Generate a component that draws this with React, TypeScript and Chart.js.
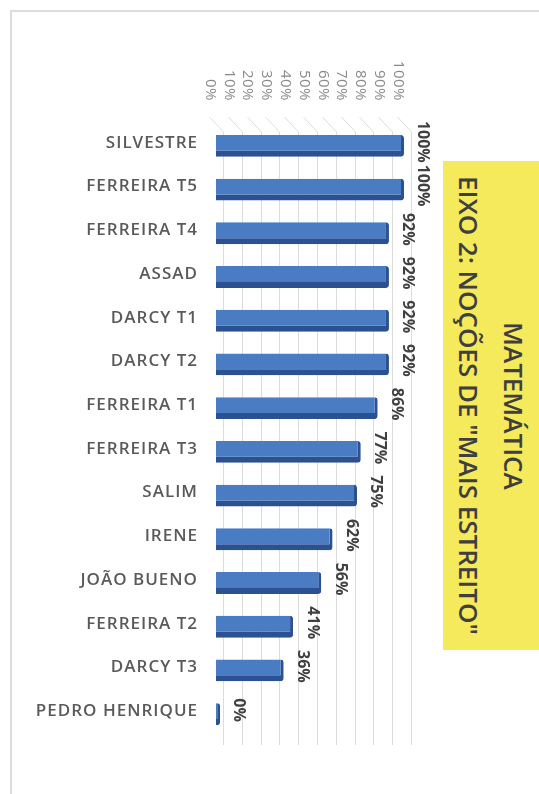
import React, { useEffect, useRef } from "react";
import { Chart, registerables } from "chart.js";

Chart.register(...registerables);

const categories = [
  "SILVESTRE",
  "FERREIRA T5",
  "FERREIRA T4",
  "ASSAD",
  "DARCY T1",
  "DARCY T2",
  "FERREIRA T1",
  "FERREIRA T3",
  "SALIM",
  "IRENE",
  "JOÃO BUENO",
  "FERREIRA T2",
  "DARCY T3",
  "PEDRO HENRIQUE",
];
const values = [100, 100, 92, 92, 92, 92, 86, 77, 75, 62, 56, 41, 36, 0];
const tickValues = [0, 10, 20, 30, 40, 50, 60, 70, 80, 90, 100];
const tickLabels = ["0%", "10%", "20%", "30%", "40%", "50%", "60%", "70%", "80%", "90%", "100%"];
const titleLines = ["MATEMÁTICA", 'EIXO 2: NOÇÕES DE "MAIS ESTREITO"'];

const overlayPlugin = {
  id: "overlay",
  beforeDatasetsDraw(chart: any) {
    const ctx = chart.ctx;
    const xs = chart.scales.x;
    ctx.save();
    ctx.strokeStyle = "#dcdcdc";
    ctx.lineWidth = 1;
    tickValues.forEach((v) => {
      const px = Math.round(xs.getPixelForValue(v) + 7) + 0.5;
      ctx.beginPath();
      ctx.moveTo(px - 14, 117);
      ctx.lineTo(px, 132);
      ctx.lineTo(px, 745);
      ctx.stroke();
    });
    ctx.restore();
  },
  afterDatasetsDraw(chart: any) {
    const ctx = chart.ctx;
    const xs = chart.scales.x;
    const meta = chart.getDatasetMeta(0);
    ctx.save();
    // category labels
    ctx.font = "600 17px 'Open Sans'";
    ctx.fillStyle = "#5a5a5a";
    ctx.textAlign = "right";
    ctx.textBaseline = "middle";
    (ctx as any).letterSpacing = "1px";
    meta.data.forEach((el: any, i: number) => {
      ctx.fillText(categories[i], 198, el.y - 3);
    });
    (ctx as any).letterSpacing = "0px";
    // tick labels (rotated clockwise)
    ctx.font = "400 15px 'Open Sans'";
    ctx.fillStyle = "#8a8a8a";
    tickValues.forEach((v, i) => {
      const px = xs.getPixelForValue(v) - 6;
      ctx.save();
      ctx.translate(px, 101);
      ctx.rotate(Math.PI / 2);
      ctx.textAlign = "right";
      ctx.textBaseline = "middle";
      (ctx as any).letterSpacing = "0.5px";
      ctx.fillText(tickLabels[i], 0, 0);
      ctx.restore();
    });
    // data labels (rotated clockwise)
    ctx.font = "700 16px 'Open Sans'";
    ctx.fillStyle = "#404040";
    meta.data.forEach((el: any, i: number) => {
      ctx.save();
      ctx.translate(el.x + 19, el.y - 4);
      ctx.rotate(Math.PI / 2);
      ctx.textAlign = "center";
      ctx.textBaseline = "middle";
      ctx.fillText(values[i] + "%", 0, 0);
      ctx.restore();
    });
    ctx.restore();
  },
};

export default function App() {
  const ref = useRef<HTMLCanvasElement | null>(null);
  useEffect(() => {
    if (!ref.current) return;
    const chart = new Chart(ref.current, {
      type: "bar",
      data: {
        labels: categories,
        datasets: [
          {
            data: values,
            backgroundColor: "#4a7cc4",
            borderColor: "#2c5190",
            borderWidth: { top: 0, right: 3, bottom: 6, left: 0 } as any,
            borderRadius: { topRight: 3, bottomRight: 3, topLeft: 0, bottomLeft: 0 } as any,
            borderSkipped: false as any,
            barPercentage: 0.5,
            categoryPercentage: 1,
            minBarLength: 4,
          },
        ],
      },
      options: {
        indexAxis: "y",
        animation: false,
        responsive: false,
        maintainAspectRatio: false,
        layout: { padding: { left: 216, right: 135, top: 124, bottom: 58 } },
        plugins: { legend: { display: false }, tooltip: { enabled: false }, title: { display: false } },
        scales: {
          x: { display: false, min: 0, max: 100 },
          y: { display: false },
        },
      },
      plugins: [overlayPlugin],
    });
    return () => chart.destroy();
  }, []);

  return (
    <div style={{ position: "fixed", left: 0, top: 0, width: 539, height: 794, background: "#fff", overflow: "hidden" }}>
      <div
        style={{
          position: "absolute",
          left: 10,
          top: 10,
          width: 700,
          height: 900,
          border: "2px solid #dcdcdc",
          boxSizing: "border-box",
        }}
      />
      <canvas ref={ref} width={539} height={794} style={{ position: "absolute", left: 0, top: 0, width: 539, height: 794 }} />
      <div
        style={{
          position: "absolute",
          left: 443,
          top: 161,
          width: 96,
          height: 489,
          background: "#f4ea5c",
          display: "flex",
          alignItems: "center",
          justifyContent: "center",
        }}
      >
        <div
          style={{
            writingMode: "vertical-rl",
            fontFamily: "'Open Sans'",
            fontWeight: 600,
            fontSize: 26,
            lineHeight: "45px",
            color: "#3f3f3f",
            textAlign: "center",
            whiteSpace: "nowrap",
          }}
        >
          {titleLines[0]}
          <br />
          {titleLines[1]}
        </div>
      </div>
    </div>
  );
}
